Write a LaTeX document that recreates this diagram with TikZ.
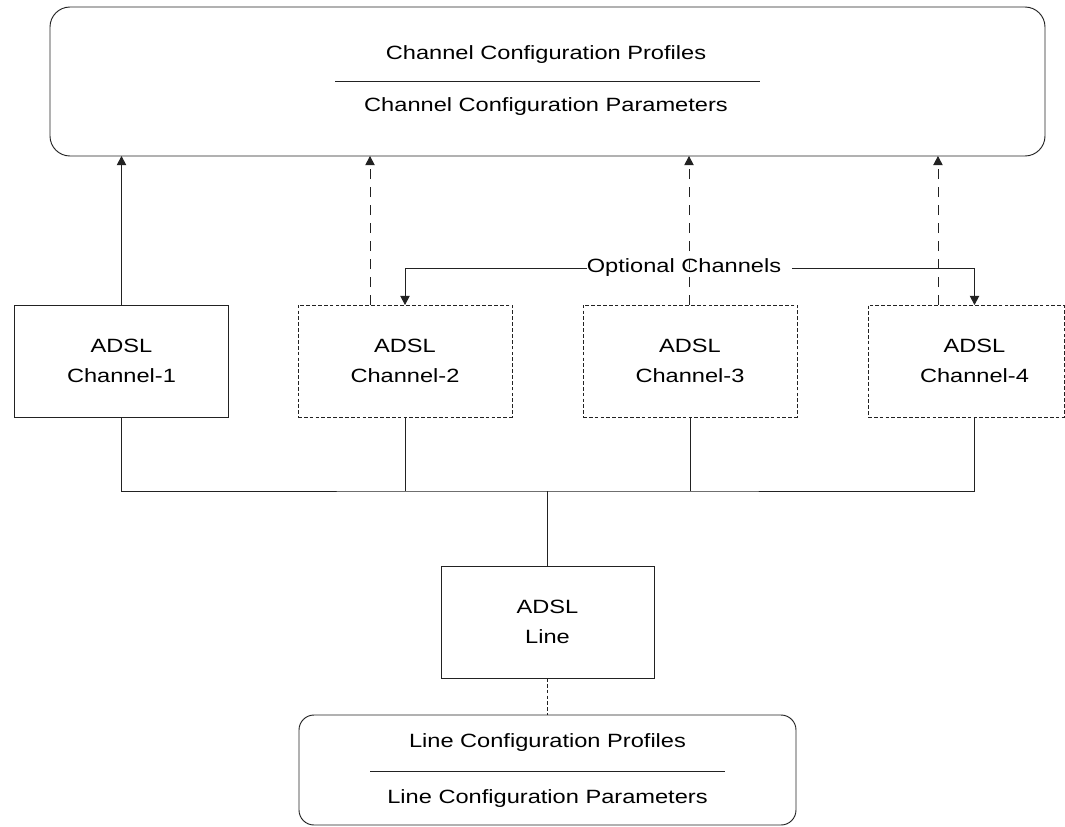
\documentclass[tikz,border=0pt]{standalone}
\usepackage{fontspec}
\setmainfont{Liberation Sans}[FakeStretch=1.23]
\usetikzlibrary{arrows.meta}

\definecolor{ink}{HTML}{222222}

\begin{document}
\begin{tikzpicture}[x=0.75pt,y=-0.75pt,
  every node/.style={font=\fontsize{14.4pt}{23pt}\selectfont, inner sep=0pt, outer sep=0pt},
  line/.style={draw=ink, line width=0.7pt},
  tip/.style={-{Triangle[length=6.8pt,width=7pt]}},
  longdash/.style={line, dash pattern=on 7.5pt off 6pt},
  finedash/.style={line, dash pattern=on 2.8pt off 1.6pt},
  cfgbox/.style={line},
  chanbox/.style={line, align=center, minimum width=160.5pt, minimum height=84pt},
  optbox/.style={chanbox, finedash},
  lbl/.style={anchor=base}
]
\useasboundingbox (0,0) rectangle (1065,826);

% channel configuration profile store
\node[cfgbox, minimum width=746.25pt, minimum height=111.75pt, rounded corners=15pt] (chprof) at (547.5,81.5) {};
\node[lbl] (chprofA) at (546,59) {Channel Configuration Profiles};
\node[lbl] (chprofB) at (546,111) {Channel Configuration Parameters};
\draw[line] (335,81.5) -- (760,81.5);

% ADSL channels
\node[chanbox] (ch1) at (121.5,361) {ADSL\\Channel-1};
\node[optbox] (ch2) at (405,361) {ADSL\\Channel-2};
\node[optbox] (ch3) at (690,361) {ADSL\\Channel-3};
\node[optbox, minimum width=147pt] (ch4) at (966,361) {};
\node[align=center] (ch4txt) at (974.5,361) {ADSL\\Channel-4};

% channels refer to their configuration profiles
\draw[line, tip] (ch1.north) -- (ch1.north |- chprof.south);
\draw[longdash, tip] ([xshift=-26.25pt]ch2.north) -- ([xshift=-26.25pt]ch2.north |- chprof.south);
\draw[longdash, tip] ([xshift=-0.75pt]ch3.north) -- ([xshift=-0.75pt]ch3.north |- chprof.south);
\draw[longdash, tip] ([xshift=-27.4pt]ch4txt |- ch4.north) -- ([xshift=-27.4pt]ch4txt |- chprof.south);

% optional channels callout
\node (opt) at (684,268) {Optional Channels};
\draw[line, tip] (opt.west) -| (ch2.north);
\draw[line, tip] ([xshift=8pt]opt.east) -| (ch4txt |- ch4.north);

% ADSL line and channel bus
\node[chanbox, minimum width=159.75pt] (adslline) at (547.5,622) {ADSL\\Line};
\coordinate (bus) at (547.5,491);
\draw[line] (ch1.south) |- (bus) -| (ch4txt |- ch4.south);
\draw[line] (ch2.south) -- (ch2.south |- bus);
\draw[line] (ch3.south) -- (ch3.south |- bus);
\draw[line] (bus) -- (adslline.north);

% line configuration profile store
\node[cfgbox, minimum width=372.75pt, minimum height=82.5pt, rounded corners=11.25pt] (lnprof) at (547.5,770) {};
\node[lbl] (lnprofA) at (547.5,747) {Line Configuration Profiles};
\node[lbl] (lnprofB) at (547.5,803) {Line Configuration Parameters};
\draw[line] (370,771) -- (725,771);
\draw[finedash] (adslline.south) -- (lnprof.north);
\end{tikzpicture}
\end{document}
